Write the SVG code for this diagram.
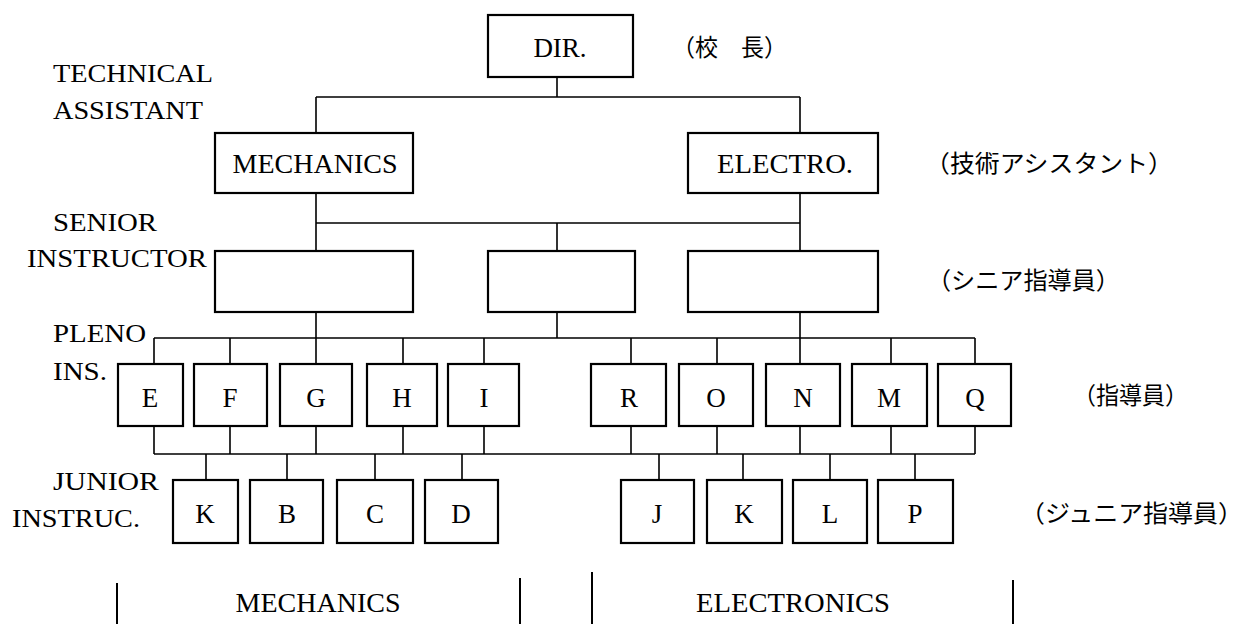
<svg xmlns="http://www.w3.org/2000/svg" width="1248" height="624" viewBox="0 0 1248 624">
<style>
.box{fill:#fff;stroke:#000;stroke-width:2.2}
.ln{fill:none;stroke:#000;stroke-width:1.6}
.bar{fill:none;stroke:#000;stroke-width:2}
text{font-family:"Liberation Serif","DejaVu Serif",serif;fill:#000}
.nt{font-size:27px;text-anchor:middle}
.lt{font-size:25px}
.jp{font-family:"Noto Sans CJK JP","Noto Sans CJK SC",sans-serif;font-size:24px}
</style>
<rect width="1248" height="624" fill="#fff"/>
<g id="connectors">
<path class="ln" d="M557,77V97M316,97H800M316,97V133M800,97V133"/>
<path class="ln" d="M316,193V251M800,193V251M316,223H800M557,223V251"/>
<path class="ln" d="M316,312V364M557,312V338M800,312V364M154,338H975M154,338V364M230,338V364M403,338V364M484,338V364M631,338V364M717,338V364M891,338V364M975,338V364"/>
<path class="ln" d="M154,426V454M230,426V454M316,426V454M403,426V454M484,426V454M631,426V454M717,426V454M800,426V454M891,426V454M975,426V454M154,454H975"/>
<path class="ln" d="M206,454V480M287,454V480M375,454V480M462,454V480M659,454V480M743,454V480M830,454V480M915,454V480"/>
</g>
<g id="dir"><rect class="box" x="488" y="15" width="145" height="62"/><text class="nt" x="560" y="57">DIR.</text></g>
<g id="mech"><rect class="box" x="215" y="133" width="198" height="60"/><text class="nt" x="315" y="173" textLength="165" lengthAdjust="spacingAndGlyphs">MECHANICS</text></g>
<g id="elec"><rect class="box" x="688" y="133" width="190" height="60"/><text class="nt" x="785" y="173" textLength="136" lengthAdjust="spacingAndGlyphs">ELECTRO.</text></g>
<g id="senior1"><rect class="box" x="215" y="251" width="198" height="61"/></g>
<g id="senior2"><rect class="box" x="488" y="251" width="147" height="61"/></g>
<g id="senior3"><rect class="box" x="688" y="251" width="190" height="61"/></g>
<g id="pE"><rect class="box" x="118" y="364" width="65" height="62"/><text class="nt" x="150" y="407">E</text></g>
<g id="pF"><rect class="box" x="194" y="364" width="73" height="62"/><text class="nt" x="230" y="407">F</text></g>
<g id="pG"><rect class="box" x="280" y="364" width="72" height="62"/><text class="nt" x="316" y="407">G</text></g>
<g id="pH"><rect class="box" x="367" y="364" width="70" height="62"/><text class="nt" x="402" y="407">H</text></g>
<g id="pI"><rect class="box" x="448" y="364" width="71" height="62"/><text class="nt" x="484" y="407">I</text></g>
<g id="pR"><rect class="box" x="591" y="364" width="75" height="62"/><text class="nt" x="629" y="407">R</text></g>
<g id="pO"><rect class="box" x="679" y="364" width="74" height="62"/><text class="nt" x="716" y="407">O</text></g>
<g id="pN"><rect class="box" x="766" y="364" width="74" height="62"/><text class="nt" x="803" y="407">N</text></g>
<g id="pM"><rect class="box" x="852" y="364" width="75" height="62"/><text class="nt" x="889" y="407">M</text></g>
<g id="pQ"><rect class="box" x="938" y="364" width="73" height="62"/><text class="nt" x="975" y="407">Q</text></g>
<g id="jK1"><rect class="box" x="173" y="480" width="65" height="63"/><text class="nt" x="205" y="523">K</text></g>
<g id="jB"><rect class="box" x="250" y="480" width="73" height="63"/><text class="nt" x="287" y="523">B</text></g>
<g id="jC"><rect class="box" x="337" y="480" width="76" height="63"/><text class="nt" x="375" y="523">C</text></g>
<g id="jD"><rect class="box" x="425" y="480" width="73" height="63"/><text class="nt" x="461" y="523">D</text></g>
<g id="jJ"><rect class="box" x="621" y="480" width="73" height="63"/><text class="nt" x="657" y="523">J</text></g>
<g id="jK2"><rect class="box" x="707" y="480" width="75" height="63"/><text class="nt" x="744" y="523">K</text></g>
<g id="jL"><rect class="box" x="793" y="480" width="74" height="63"/><text class="nt" x="830" y="523">L</text></g>
<g id="jP"><rect class="box" x="878" y="480" width="75" height="63"/><text class="nt" x="915" y="523">P</text></g>
<g id="labels">
<text class="lt" x="53" y="82" textLength="160" lengthAdjust="spacingAndGlyphs">TECHNICAL</text>
<text class="lt" x="53" y="119" textLength="150" lengthAdjust="spacingAndGlyphs">ASSISTANT</text>
<text class="lt" x="53" y="231" textLength="104" lengthAdjust="spacingAndGlyphs">SENIOR</text>
<text class="lt" x="27" y="267" textLength="180" lengthAdjust="spacingAndGlyphs">INSTRUCTOR</text>
<text class="lt" x="53" y="342" textLength="93" lengthAdjust="spacingAndGlyphs">PLENO</text>
<text class="lt" x="53" y="380" textLength="54" lengthAdjust="spacingAndGlyphs">INS.</text>
<text class="lt" x="53" y="490" textLength="106" lengthAdjust="spacingAndGlyphs">JUNIOR</text>
<text class="lt" x="12" y="527" textLength="128" lengthAdjust="spacingAndGlyphs">INSTRUC.</text>
<text class="jp" x="672" y="56" textLength="115" lengthAdjust="spacingAndGlyphs">（校　長）</text>
<text class="jp" x="925" y="172" textLength="248" lengthAdjust="spacingAndGlyphs">（技術アシスタント）</text>
<text class="jp" x="927" y="289" textLength="193" lengthAdjust="spacingAndGlyphs">（シニア指導員）</text>
<text class="jp" x="1073" y="404" textLength="115" lengthAdjust="spacingAndGlyphs">（指導員）</text>
<text class="jp" x="1020" y="522" textLength="223" lengthAdjust="spacingAndGlyphs">（ジュニア指導員）</text>
</g>
<g id="divisions">
<path class="bar" d="M117,583V624M520,578V624M592,572V624M1013,580V624"/>
<text class="nt" x="318" y="612" textLength="165" lengthAdjust="spacingAndGlyphs">MECHANICS</text>
<text class="nt" x="793" y="612" textLength="194" lengthAdjust="spacingAndGlyphs">ELECTRONICS</text>
</g>
</svg>
